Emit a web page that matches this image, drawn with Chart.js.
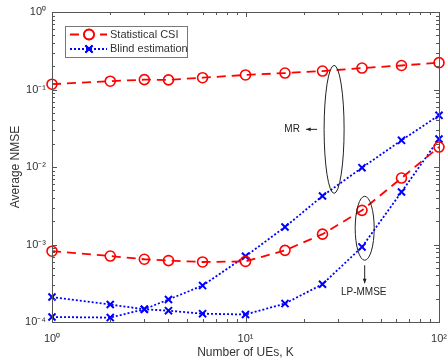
<!DOCTYPE html>
<html>
<head>
<meta charset="utf-8">
<script src="https://cdn.jsdelivr.net/npm/chart.js@4/dist/chart.umd.min.js"></script>
<style>
  html, body { margin: 0; padding: 0; background: #fff; }
  #wrap { width: 447px; height: 360px; }
</style>
</head>
<body>
<div id="wrap"><canvas id="myChart"></canvas></div>
<script>
const ueCounts = [1, 2, 3, 4, 6, 10, 16, 25, 40, 64, 100];
const statMR = [0.117, 0.128, 0.134, 0.133, 0.142, 0.154, 0.163, 0.173, 0.189, 0.204, 0.222];
const statLP = [8.2e-4, 7.1e-4, 6.45e-4, 6.2e-4, 5.95e-4, 6.05e-4, 8.4e-4, 1.36e-3, 2.76e-3, 7.2e-3, 1.81e-2];
const blindMR = [1.16e-4, 1.14e-4, 1.46e-4, 1.95e-4, 2.95e-4, 7.05e-4, 1.68e-3, 4.23e-3, 9.8e-3, 2.21e-2, 4.64e-2];
const blindLP = [2.10e-4, 1.68e-4, 1.46e-4, 1.40e-4, 1.28e-4, 1.25e-4, 1.73e-4, 3.07e-4, 9.3e-4, 4.76e-3, 2.3e-2];

const xTickValues = [1, 10, 100];
const xTickLabels = ['10⁰', '10¹', '10²'];
const yTickValues = [1e-4, 1e-3, 1e-2, 1e-1, 1];
const yTickLabels = ['10⁻⁴', '10⁻³', '10⁻²', '10⁻¹', '10⁰'];
const seriesLabels = ['Statistical CSI', 'Blind estimation'];

const FONT = 'Liberation Sans, Arial, Helvetica, sans-serif';
const AXIS_COLOR = '#555';
const TEXT_COLOR = '#333';

function toPoints(values) {
    return ueCounts.map((k, i) => ({x: k, y: values[i]}));
}

function statStyle(label, values) {
    return {
        label: label,
        data: toPoints(values),
        borderColor: '#ff0000',
        borderWidth: 1.8,
        borderDash: [9, 6],
        pointStyle: 'circle',
        pointRadius: 5,
        pointBorderWidth: 1.6,
        pointBackgroundColor: 'rgba(0,0,0,0)',
        pointBorderColor: '#ff0000',
        fill: false,
        clip: false
    };
}

function blindStyle(label, values) {
    return {
        label: label,
        data: toPoints(values),
        borderColor: '#0000ff',
        borderWidth: 1.8,
        borderDash: [2, 2],
        pointStyle: 'crossRot',
        pointRadius: 5,
        pointBorderWidth: 2,
        pointBorderColor: '#0000ff',
        fill: false,
        clip: false
    };
}

// inward ticks + box, like matlab axes
const boxPlugin = {
    id: 'box',
    afterDatasetsDraw(chart) {
        const {ctx, chartArea: a, scales: {x, y}} = chart;
        ctx.save();
        ctx.strokeStyle = AXIS_COLOR;
        ctx.lineWidth = 1;
        ctx.strokeRect(a.left + 0.5, a.top + 0.5, a.right - a.left, a.bottom - a.top);
        ctx.beginPath();
        for (let d = -4; d <= 0; d++) {
            for (let m = 1; m <= 9; m++) {
                const v = m * Math.pow(10, d);
                if (v > 1) break;
                const py = Math.round(y.getPixelForValue(v)) + 0.5;
                const len = m === 1 ? 5 : 3;
                ctx.moveTo(a.left, py); ctx.lineTo(a.left + len, py);
                ctx.moveTo(a.right, py); ctx.lineTo(a.right - len, py);
            }
        }
        for (let d = 0; d <= 2; d++) {
            for (let m = 1; m <= 9; m++) {
                const v = m * Math.pow(10, d);
                if (v > 100) break;
                const px = Math.round(x.getPixelForValue(v)) + 0.5;
                const len = m === 1 ? 5 : 3;
                ctx.moveTo(px, a.bottom); ctx.lineTo(px, a.bottom - len);
                ctx.moveTo(px, a.top); ctx.lineTo(px, a.top + len);
            }
        }
        ctx.stroke();
        ctx.restore();
    }
};

function arrow(ctx, x1, y1, x2, y2) {
    const ang = Math.atan2(y2 - y1, x2 - x1);
    ctx.beginPath();
    ctx.moveTo(x1, y1);
    ctx.lineTo(x2, y2);
    ctx.stroke();
    ctx.beginPath();
    ctx.moveTo(x2, y2);
    ctx.lineTo(x2 - 5 * Math.cos(ang - 0.4), y2 - 5 * Math.sin(ang - 0.4));
    ctx.lineTo(x2 - 5 * Math.cos(ang + 0.4), y2 - 5 * Math.sin(ang + 0.4));
    ctx.closePath();
    ctx.fill();
}

const notesPlugin = {
    id: 'notes',
    afterDraw(chart) {
        const {ctx, scales: {x, y}} = chart;
        ctx.save();
        ctx.strokeStyle = '#222';
        ctx.fillStyle = '#222';
        ctx.lineWidth = 1;
        ctx.font = '10px ' + FONT;
        ctx.textAlign = 'center';
        ctx.textBaseline = 'middle';

        // MR group
        let cx = x.getPixelForValue(28.7), cy = y.getPixelForValue(0.0306);
        ctx.beginPath();
        ctx.ellipse(cx, cy, 10, 64, 0, 0, 2 * Math.PI);
        ctx.stroke();
        ctx.fillText('MR', cx - 42, cy);
        arrow(ctx, cx - 17, cy, cx - 28, cy);

        // LP-MMSE group
        cx = x.getPixelForValue(41.3); cy = y.getPixelForValue(1.62e-3);
        ctx.beginPath();
        ctx.ellipse(cx, cy, 9.5, 32, 0, 0, 2 * Math.PI);
        ctx.stroke();
        arrow(ctx, cx, cy + 37, cx, cy + 55);
        ctx.fillText('LP-MMSE', cx - 1, cy + 64);
        ctx.restore();
    }
};

const legendPlugin = {
    id: 'mlegend',
    afterDraw(chart) {
        const {ctx, chartArea: a} = chart;
        const left = a.left + 13, top = a.top + 14;
        ctx.save();
        ctx.fillStyle = '#fff';
        ctx.fillRect(left, top, 122, 31);
        ctx.strokeStyle = '#777';
        ctx.lineWidth = 1;
        ctx.strokeRect(left + 0.5, top + 0.5, 122, 31);
        for (let i = 0; i < 2; i++) {
            const ds = chart.data.datasets[i * 2];
            const ry = top + 8.5 + i * 14.5;
            ctx.strokeStyle = ds.borderColor;
            ctx.lineWidth = ds.borderWidth;
            ctx.setLineDash(ds.borderDash);
            ctx.beginPath();
            ctx.moveTo(left + 5, ry);
            ctx.lineTo(left + 42, ry);
            ctx.stroke();
            ctx.setLineDash([]);
            Chart.helpers.drawPoint(ctx, {
                pointStyle: ds.pointStyle,
                radius: ds.pointRadius,
                borderWidth: ds.pointBorderWidth,
                rotation: 0
            }, left + 24, ry);
            ctx.lineWidth = ds.pointBorderWidth;
            ctx.stroke();
            ctx.fillStyle = TEXT_COLOR;
            ctx.font = '11px ' + FONT;
            ctx.textBaseline = 'middle';
            ctx.fillText(seriesLabels[i], left + 45, ry);
        }
        ctx.restore();
    }
};

const config = {
    type: 'line',
    data: {
        datasets: [
            statStyle('Statistical CSI (MR)', statMR),
            statStyle('Statistical CSI (LP-MMSE)', statLP),
            blindStyle('Blind estimation (MR)', blindMR),
            blindStyle('Blind estimation (LP-MMSE)', blindLP)
        ]
    },
    options: {
        responsive: true,
        maintainAspectRatio: false,
        animation: false,
        layout: {padding: {top: 12, right: 8, left: 0, bottom: 0}},
        plugins: {legend: {display: false}, tooltip: {enabled: false}},
        scales: {
            x: {
                type: 'logarithmic',
                min: 1,
                max: 100,
                afterBuildTicks: s => { s.ticks = xTickValues.map(v => ({value: v})); },
                afterFit: s => { s.height = 38; s.paddingLeft = 0; s.paddingRight = 0; },
                grid: {display: false, drawTicks: false},
                border: {display: false},
                ticks: {
                    callback: (v, i) => xTickLabels[i],
                    color: TEXT_COLOR,
                    font: {family: FONT, size: 11},
                    padding: 10,
                    maxRotation: 0
                },
                title: {
                    display: true,
                    text: 'Number of UEs, K',
                    color: TEXT_COLOR,
                    font: {family: FONT, size: 12},
                    padding: {top: 0, bottom: 0}
                }
            },
            y: {
                type: 'logarithmic',
                min: 1e-4,
                max: 1,
                afterBuildTicks: s => { s.ticks = yTickValues.map(v => ({value: v})); },
                afterFit: s => { s.width = 52; s.paddingTop = 0; s.paddingBottom = 0; },
                grid: {display: false, drawTicks: false},
                border: {display: false},
                ticks: {
                    callback: (v, i) => yTickLabels[i],
                    color: TEXT_COLOR,
                    font: {family: FONT, size: 11},
                    padding: 6
                },
                title: {
                    display: true,
                    text: 'Average NMSE',
                    color: TEXT_COLOR,
                    font: {family: FONT, size: 12},
                    padding: {top: 8, bottom: 0}
                }
            }
        }
    },
    plugins: [boxPlugin, notesPlugin, legendPlugin]
};

new Chart(document.getElementById('myChart'), config);
</script>
</body>
</html>
